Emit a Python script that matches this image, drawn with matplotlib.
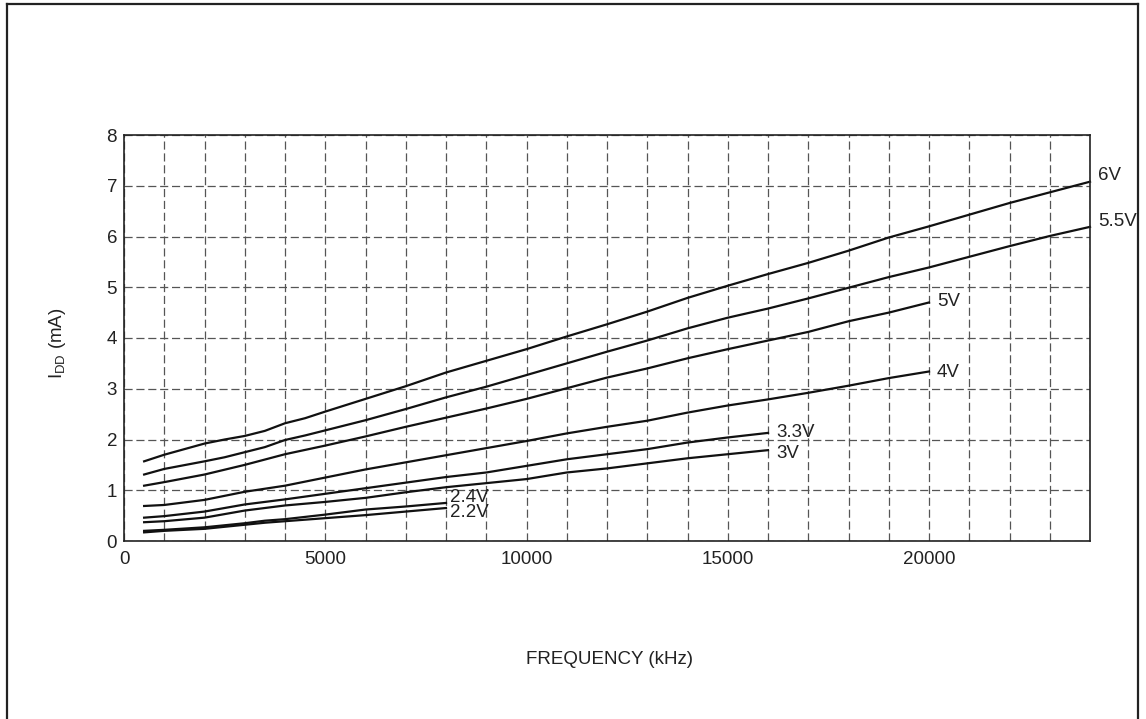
import matplotlib
matplotlib.use("Agg")
import matplotlib.pyplot as plt
from matplotlib.lines import Line2D

plt.rcParams['font.family'] = ['Liberation Sans', 'DejaVu Sans']

# frequency (kHz) and IDD (mA)
f_24k = [500, 1000, 2000, 2500, 3000, 3500, 4000, 4500, 5000, 6000, 7000, 8000, 9000, 10000, 11000,
         12000, 13000, 14000, 15000, 16000, 17000, 18000, 19000, 20000, 21000, 22000, 23000, 24000]
i_6v = [1.57, 1.70, 1.92, 2.00, 2.07, 2.17, 2.32, 2.42, 2.55, 2.80, 3.05, 3.32, 3.55, 3.78, 4.03,
        4.27, 4.52, 4.79, 5.03, 5.26, 5.48, 5.72, 5.98, 6.20, 6.43, 6.66, 6.87, 7.08]
i_55v = [1.31, 1.42, 1.57, 1.65, 1.75, 1.85, 1.99, 2.08, 2.18, 2.38, 2.60, 2.83, 3.04, 3.27, 3.50,
         3.73, 3.95, 4.19, 4.40, 4.58, 4.78, 4.99, 5.20, 5.39, 5.60, 5.81, 6.01, 6.19]

f_20k = [500, 1000, 2000, 3000, 4000, 5000, 6000, 7000, 8000, 9000, 10000,
         11000, 12000, 13000, 14000, 15000, 16000, 17000, 18000, 19000, 20000]
i_5v = [1.09, 1.16, 1.31, 1.50, 1.71, 1.88, 2.06, 2.25, 2.43, 2.61, 2.80,
        3.01, 3.22, 3.40, 3.60, 3.78, 3.95, 4.12, 4.33, 4.50, 4.70]
i_4v = [0.69, 0.71, 0.81, 0.97, 1.09, 1.25, 1.41, 1.55, 1.69, 1.83, 1.97,
        2.12, 2.25, 2.37, 2.53, 2.67, 2.79, 2.92, 3.06, 3.21, 3.34]

f_16k = [500, 1000, 2000, 3000, 4000, 5000, 6000, 7000, 8000, 9000, 10000,
         11000, 12000, 13000, 14000, 15000, 16000]
i_33v = [0.46, 0.49, 0.58, 0.72, 0.82, 0.93, 1.04, 1.15, 1.26, 1.35, 1.48,
         1.61, 1.71, 1.81, 1.94, 2.04, 2.13]
i_3v = [0.37, 0.39, 0.46, 0.60, 0.70, 0.77, 0.85, 0.96, 1.06, 1.14, 1.22,
        1.35, 1.43, 1.53, 1.63, 1.71, 1.79]

f_8k = [500, 1000, 2000, 3000, 3500, 4000, 5000, 6000, 7000, 8000]
i_24v = [0.20, 0.22, 0.27, 0.35, 0.40, 0.43, 0.52, 0.62, 0.68, 0.75]
i_22v = [0.17, 0.20, 0.24, 0.32, 0.36, 0.39, 0.45, 0.51, 0.58, 0.65]

curves = [
    (f_24k, i_6v, "6V", 24200, 7.2),
    (f_24k, i_55v, "5.5V", 24200, 6.3),
    (f_20k, i_5v, "5V", 20200, 4.72),
    (f_20k, i_4v, "4V", 20200, 3.32),
    (f_16k, i_33v, "3.3V", 16200, 2.14),
    (f_16k, i_3v, "3V", 16200, 1.73),
    (f_8k, i_24v, "2.4V", 8100, 0.86),
    (f_8k, i_22v, "2.2V", 8100, 0.56),
]

fig = plt.figure(figsize=(11.46, 7.19), dpi=100)
ax = fig.add_axes([124 / 1146, 1 - 541 / 719, 966 / 1146, 406 / 719])

for fx, iy, name, lx, ly in curves:
    ax.plot(fx, iy, color="#111111", linewidth=1.6, clip_on=False)
    ax.text(lx, ly, name, fontsize=13.5, color="#222222", va="center", ha="left", clip_on=False)

ax.set_xlim(0, 24000)
ax.set_ylim(0, 8)
ax.set_xticks(range(0, 24001, 1000), minor=True)
ax.set_xticks([0, 5000, 10000, 15000, 20000])
ax.set_yticks(range(0, 9))
ax.tick_params(which="both", length=0, labelsize=13.5, labelcolor="#222222")
ax.tick_params(axis="x", pad=7)
ax.tick_params(axis="y", pad=5)
ax.grid(which="both", color="#555555", linestyle=(0, (6.5, 3)), linewidth=0.9)
for s in ax.spines.values():
    s.set_color("#222222")
    s.set_linewidth(1.2)

fig.text(610 / 1146, 1 - 660 / 719, "FREQUENCY (kHz)", fontsize=13.5, color="#222222",
         ha="center", va="center")
fig.text(57 / 1146, 1 - 343 / 719, r"I$_{\mathregular{DD}}$ (mA)", fontsize=13.5, color="#222222",
         ha="center", va="center", rotation=90)

# outer frame (open at the bottom)
x0, x1, y1 = 7 / 1146, 1138 / 1146, 1 - 4 / 719
for xs, ys in [([x0, x0], [0, y1]), ([x0, x1], [y1, y1]), ([x1, x1], [y1, 0])]:
    fig.add_artist(Line2D(xs, ys, color="#222222", linewidth=1.6, transform=fig.transFigure))

plt.savefig("out.png", dpi=100)
